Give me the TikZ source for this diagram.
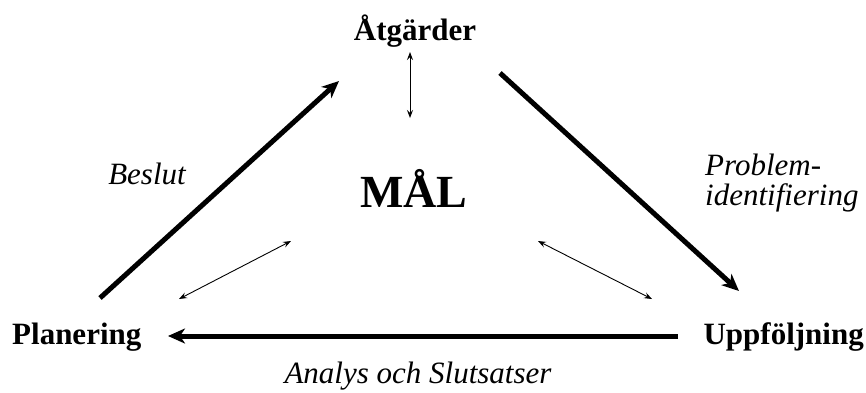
\documentclass[tikz,border=0pt]{standalone}
\usepackage{fontspec}
\setmainfont{Liberation Serif}
\usetikzlibrary{arrows.meta}
\tikzset{
  lbl/.style={inner sep=0pt, font=\fontsize{31}{32}\selectfont\bfseries},
  itl/.style={inner sep=0pt, font=\fontsize{31}{32}\selectfont\itshape},
  big/.style={inner sep=0pt, font=\fontsize{46}{48}\selectfont\bfseries},
  thick arrow/.style={line width=5pt, -{Stealth[length=17pt,width=15pt,inset=5pt]}},
  thin arrow/.style={line width=0.9pt, {Stealth[length=8pt,width=6pt,inset=3pt]}-{Stealth[length=8pt,width=6pt,inset=3pt]}}
}
\begin{document}
\begin{tikzpicture}[x=1pt,y=-1pt]
\useasboundingbox (0,0) rectangle (866,392);
% texts
\node[lbl, anchor=base] (atg) at (415,40) {Åtgärder};
\node[big, anchor=base] (mal) at (414,207) {MÅL};
\node[lbl, anchor=base west] (plan) at (12,344) {Planering};
\node[lbl, anchor=base east] (upp) at (864,344) {Uppföljning};
\node[itl, anchor=base] (beslut) at (147,184) {Beslut};
\node[itl, anchor=base west] (prob) at (705,175) {Problem-};
\node[itl, anchor=base west] (ident) at (705,205) {identifiering};
\node[itl, anchor=base] (analys) at (418,383) {Analys och Slutsatser};
% connector ends
\coordinate (b1) at (100,298);
\coordinate (b2) at (339,81);
\coordinate (p1) at (500,73);
\coordinate (p2) at (739,291);
\coordinate (a1) at (678,336);
\coordinate (a2) at (168,336);
\coordinate (v1) at (410,52);
\coordinate (v2) at (410,118);
\coordinate (l1) at (179,299);
\coordinate (l2) at (291,241);
\coordinate (r1) at (538,241);
\coordinate (r2) at (652,299);
% connectors
\draw[thick arrow] (b1) -- (b2);
\draw[thick arrow] (p1) -- (p2);
\draw[thick arrow] (a1) -- (a2);
\draw[thin arrow] (v1) -- (v2);
\draw[thin arrow] (l1) -- (l2);
\draw[thin arrow] (r1) -- (r2);
\end{tikzpicture}
\end{document}
